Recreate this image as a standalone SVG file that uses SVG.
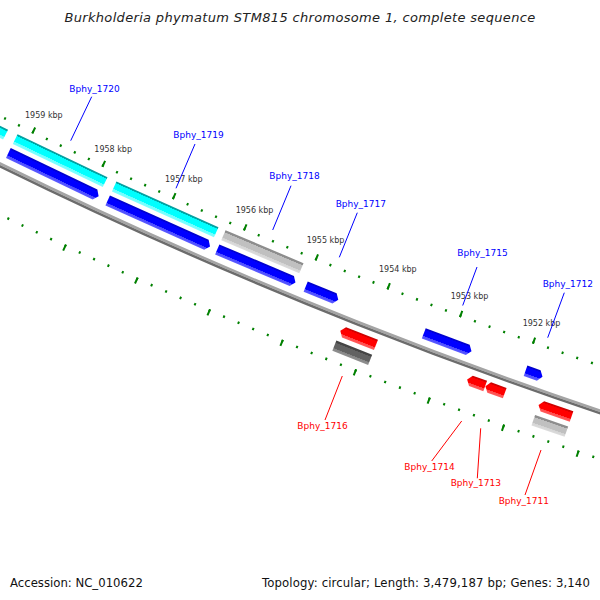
<svg xmlns="http://www.w3.org/2000/svg" width="600" height="600" viewBox="0 0 600 600">
<style>
.title{font-family:"DejaVu Sans",sans-serif;font-size:13px;font-style:italic;fill:#222;letter-spacing:0.33px}
.foot{font-family:"DejaVu Sans",sans-serif;font-size:11.7px;fill:#111}
.kbp{font-family:"DejaVu Sans",sans-serif;font-size:8px;fill:#333}
.lf{font-family:"DejaVu Sans",sans-serif;font-size:9px;fill:#0000ff}
.lr{font-family:"DejaVu Sans",sans-serif;font-size:9px;fill:#ff0000}
.cf{stroke:#0000ff;stroke-width:1;fill:none}
.cr{stroke:#ff0000;stroke-width:1;fill:none}
.tick{fill:none;stroke:#008000}
.cyan{fill:url(#gCyan)}
.blue{fill:url(#gBlue)}
.red{fill:url(#gRed)}
.lgrey{fill:url(#gLGrey)}
.dgrey{fill:url(#gDGrey)}
</style>
<defs>
<linearGradient id="gCyan" x1="0" y1="0" x2="0" y2="1">
<stop offset="0" stop-color="#009c9c"/><stop offset="0.16" stop-color="#00aaaa"/><stop offset="0.18" stop-color="#00ffff"/><stop offset="0.72" stop-color="#00ffff"/><stop offset="0.74" stop-color="#6cffff"/><stop offset="1" stop-color="#80ffff"/>
</linearGradient>
<linearGradient id="gBlue" x1="0" y1="0" x2="0" y2="1">
<stop offset="0" stop-color="#0000c4"/><stop offset="0.16" stop-color="#0000e0"/><stop offset="0.18" stop-color="#0000ff"/><stop offset="0.72" stop-color="#0000ff"/><stop offset="0.74" stop-color="#4a4aff"/><stop offset="1" stop-color="#5c5cff"/>
</linearGradient>
<linearGradient id="gRed" x1="0" y1="0" x2="0" y2="1">
<stop offset="0" stop-color="#c40000"/><stop offset="0.16" stop-color="#e00000"/><stop offset="0.18" stop-color="#ff0000"/><stop offset="0.72" stop-color="#ff0000"/><stop offset="0.74" stop-color="#ff4a4a"/><stop offset="1" stop-color="#ff5c5c"/>
</linearGradient>
<linearGradient id="gLGrey" x1="0" y1="0" x2="0" y2="1">
<stop offset="0" stop-color="#8a8a8a"/><stop offset="0.2" stop-color="#909090"/><stop offset="0.22" stop-color="#c0c0c0"/><stop offset="0.72" stop-color="#c0c0c0"/><stop offset="0.74" stop-color="#d4d4d4"/><stop offset="1" stop-color="#dcdcdc"/>
</linearGradient>
<linearGradient id="gDGrey" x1="0" y1="0" x2="0" y2="1">
<stop offset="0" stop-color="#404040"/><stop offset="0.2" stop-color="#484848"/><stop offset="0.22" stop-color="#626262"/><stop offset="0.72" stop-color="#626262"/><stop offset="0.74" stop-color="#868686"/><stop offset="1" stop-color="#909090"/>
</linearGradient>
</defs>
<rect width="600" height="600" fill="#ffffff"/>
<text class="title" x="300" y="22" text-anchor="middle">Burkholderia phymatum STM815 chromosome 1, complete sequence</text>

<g id="ruler" transform="translate(2170 -4253) rotate(107.7815)">
<circle class="tick" r="4878.25" stroke-width="2.5" stroke-dasharray="2 13.5179" stroke-dashoffset="1"/>
<circle class="tick" r="4876.25" stroke-width="6.5" stroke-dasharray="2 75.5578" stroke-dashoffset="1"/>
<circle class="tick" r="4966.75" stroke-width="2.5" stroke-dasharray="2 13.7994" stroke-dashoffset="1"/>
<circle class="tick" r="4968.75" stroke-width="6.5" stroke-dasharray="2 77.0288" stroke-dashoffset="1"/>
</g>
<g id="ruler-labels">
<text class="kbp" x="25" y="118.3">1959 kbp</text>
<text class="kbp" x="94.3" y="151.7">1958 kbp</text>
<text class="kbp" x="165" y="182">1957 kbp</text>
<text class="kbp" x="235.7" y="213.3">1956 kbp</text>
<text class="kbp" x="306.7" y="243">1955 kbp</text>
<text class="kbp" x="379" y="271.7">1954 kbp</text>
<text class="kbp" x="450.7" y="299.3">1953 kbp</text>
<text class="kbp" x="522.7" y="326">1952 kbp</text>
</g>

<g id="backbone" transform="translate(2170 -4253)" fill="none">
<circle r="4920.75" stroke="#a4a4a4" stroke-width="2.5"/>
<circle r="4923.25" stroke="#6c6c6c" stroke-width="2.5"/>
</g>

<g id="connectors">
<line class="cf" x1="91.7" y1="96.7" x2="70.7" y2="140.7"/>
<line class="cf" x1="195" y1="144" x2="176" y2="188.3"/>
<line class="cf" x1="291" y1="185.7" x2="272.7" y2="230"/>
<line class="cf" x1="357.3" y1="212.7" x2="339.3" y2="257.3"/>
<line class="cf" x1="477" y1="267" x2="462.7" y2="305.5"/>
<line class="cf" x1="564.3" y1="292.7" x2="547.7" y2="337.7"/>
<line class="cr" x1="342.3" y1="376" x2="325" y2="420"/>
<line class="cr" x1="461.7" y1="421" x2="431.7" y2="461"/>
<line class="cr" x1="480.7" y1="428.3" x2="477.3" y2="478.3"/>
<line class="cr" x1="541" y1="450" x2="525" y2="495"/>
</g>

<g id="gene_left">
<polygon class="cyan" transform="translate(2170 -4253) rotate(27.0685) translate(0 4892)" points="-69.29,-5.5 69.29,-5.5 69.29,5.5 -69.29,5.5"/>
</g>
<g id="bphy_1720">
<polygon class="cyan" transform="translate(2170 -4253) rotate(25.549) translate(0 4892)" points="-49.86,-5.5 49.86,-5.5 49.86,5.5 -49.86,5.5"/>
<polygon class="blue" transform="translate(2170 -4253) rotate(25.549) translate(0 4907.5)" points="-50.02,-5.5 46.02,-5.5 50.02,0 46.02,5.5 -50.02,5.5"/>
<text class="lf" x="69.3" y="91.5">Bphy_1720</text>
</g>
<g id="bphy_1719">
<polygon class="cyan" transform="translate(2170 -4253) rotate(24.193) translate(0 4892)" points="-55.93,-5.5 55.93,-5.5 55.93,5.5 -55.93,5.5"/>
<polygon class="blue" transform="translate(2170 -4253) rotate(24.193) translate(0 4907.5)" points="-56.1,-5.5 52.1,-5.5 56.1,0 52.1,5.5 -56.1,5.5"/>
<text class="lf" x="173.3" y="138">Bphy_1719</text>
</g>
<g id="bphy_1718">
<polygon class="lgrey" transform="translate(2170 -4253) rotate(22.951) translate(0 4892)" points="-42.35,-5.5 42.35,-5.5 42.35,5.5 -42.35,5.5"/>
<polygon class="blue" transform="translate(2170 -4253) rotate(22.951) translate(0 4907.5)" points="-42.48,-5.5 38.48,-5.5 42.48,0 38.48,5.5 -42.48,5.5"/>
<text class="lf" x="269.3" y="179">Bphy_1718</text>
</g>
<g id="bphy_1717">
<polygon class="blue" transform="translate(2170 -4253) rotate(22.1215) translate(0 4907.5)" points="-17.6,-5.5 13.6,-5.5 17.6,0 13.6,5.5 -17.6,5.5"/>
<text class="lf" x="335.7" y="207.2">Bphy_1717</text>
</g>
<g id="bphy_1716">
<polygon class="red" transform="translate(2170 -4253) rotate(21.5375) translate(0 4935.5)" points="-19.17,0 -15.17,-5.5 19.17,-5.5 19.17,5.5 -15.17,5.5"/>
<polygon class="dgrey" transform="translate(2170 -4253) rotate(21.5375) translate(0 4951.5)" points="-19.23,-5.5 19.23,-5.5 19.23,5.5 -19.23,5.5"/>
<text class="lr" x="297.3" y="428.6">Bphy_1716</text>
</g>
<g id="bphy_1715">
<polygon class="blue" transform="translate(2170 -4253) rotate(20.5465) translate(0 4907.5)" points="-25.48,-5.5 21.48,-5.5 25.48,0 21.48,5.5 -25.48,5.5"/>
<text class="lf" x="457.3" y="256.2">Bphy_1715</text>
</g>
<g id="bphy_1714">
<polygon class="red" transform="translate(2170 -4253) rotate(20.0715) translate(0 4935.5)" points="-9.6,0 -5.6,-5.5 9.6,-5.5 9.6,5.5 -5.6,5.5"/>
<text class="lr" x="404.3" y="469.6">Bphy_1714</text>
</g>
<g id="bphy_1713">
<polygon class="red" transform="translate(2170 -4253) rotate(19.838) translate(0 4935.5)" points="-10.25,0 -6.25,-5.5 10.25,-5.5 10.25,5.5 -6.25,5.5"/>
<text class="lr" x="450.7" y="486.2">Bphy_1713</text>
</g>
<g id="bphy_1712">
<polygon class="blue" transform="translate(2170 -4253) rotate(19.473) translate(0 4907.5)" points="-8.99,-5.5 4.99,-5.5 8.99,0 4.99,5.5 -8.99,5.5"/>
<text class="lf" x="542.7" y="287.2">Bphy_1712</text>
</g>
<g id="bphy_1711">
<polygon class="red" transform="translate(2170 -4253) rotate(19.0995) translate(0 4935.5)" points="-17.44,0 -13.44,-5.5 17.44,-5.5 17.44,5.5 -13.44,5.5"/>
<polygon class="lgrey" transform="translate(2170 -4253) rotate(19.0995) translate(0 4951.5)" points="-17.5,-5.5 17.5,-5.5 17.5,5.5 -17.5,5.5"/>
<text class="lr" x="498.7" y="503.5">Bphy_1711</text>
</g>

<text class="foot" x="10" y="587">Accession: NC_010622</text>
<text class="foot" x="590" y="587" text-anchor="end" letter-spacing="0.13">Topology: circular; Length: 3,479,187 bp; Genes: 3,140</text>
</svg>
